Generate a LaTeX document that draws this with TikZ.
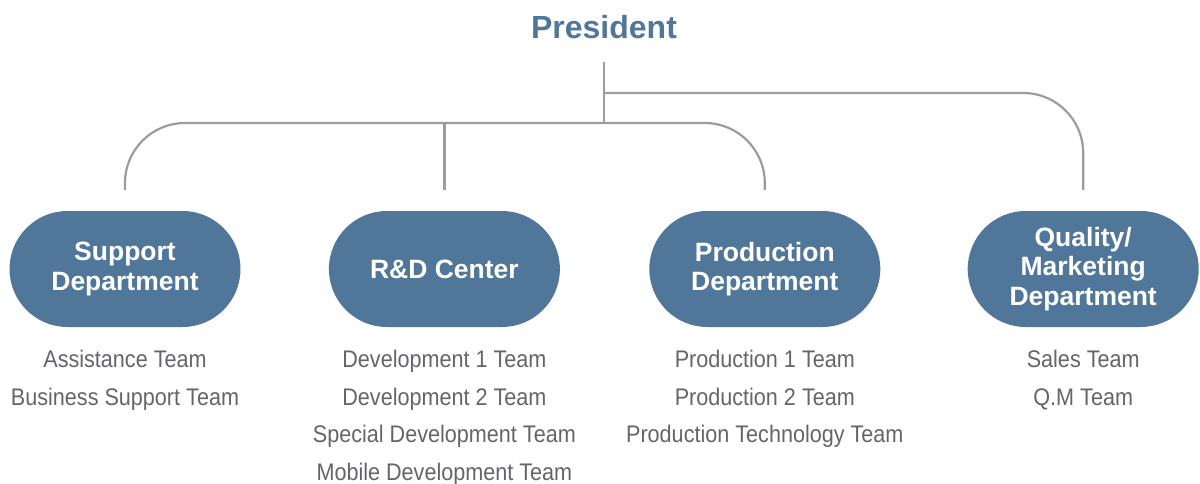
\documentclass[tikz,border=0pt]{standalone}
\usepackage{fontspec}
\setmainfont{Liberation Sans}
\newfontfamily\teamfont[FakeStretch=0.9]{Liberation Sans}
\usetikzlibrary{positioning}
\definecolor{deptblue}{HTML}{50779A}
\definecolor{linegray}{HTML}{9C9C9E}
\definecolor{teamgray}{HTML}{646568}
\tikzset{
  dept/.style={fill=deptblue, text=white, rounded corners=58pt,
               minimum width=231pt, minimum height=116pt, inner sep=0pt,
               align=center, font=\fontsize{26.5}{29.5}\selectfont\bfseries},
  teams/.style={text=teamgray, align=center, inner sep=0pt,
                font=\teamfont\fontsize{24}{37.5}\selectfont},
  link/.style={draw=linegray, line width=2.2pt, rounded corners=60pt}
}
\begin{document}
\begin{tikzpicture}[x=1pt,y=-1pt]
	\useasboundingbox (0,0) rectangle (1200,484);
	% top
	\node[text=deptblue, inner sep=0pt,
	      font=\fontsize{32}{38}\selectfont\bfseries] (pres) at (604,27) {President};
	% departments
	\node[dept] (sup) at (125,269) {Support\\Department};
	\node[dept, right=88pt of sup] (rd) {R\&D Center};
	\node[dept, right=89pt of rd] (prod) {Production\\Department};
	\node[dept, right=87pt of prod] (qm) {Quality/\\Marketing\\Department};
	% teams
	\node[teams, below=23pt of sup] (supteams) {Assistance Team\\Business Support Team};
	\node[teams, below=23pt of rd] (rdteams) {Development 1 Team\\Development 2 Team\\Special Development Team\\Mobile Development Team};
	\node[teams, below=23pt of prod] (prodteams) {Production 1 Team\\Production 2 Team\\Production Technology Team};
	\node[teams, below=23pt of qm] (qmteams) {Sales Team\\Q.M Team};
	% connectors
	\coordinate (top) at (604,62);
	\coordinate (split) at (604,93);
	\coordinate (hub) at (604,123);
	\draw[link] (top) -- (hub);
	\draw[link] ([yshift=21pt]sup.north) |- (hub) -| ([yshift=21pt]prod.north);
	\draw[link] ([yshift=21pt]rd.north) -- (rd.north |- hub);
	\draw[link] (split) -| ([yshift=21pt]qm.north);
\end{tikzpicture}
\end{document}
